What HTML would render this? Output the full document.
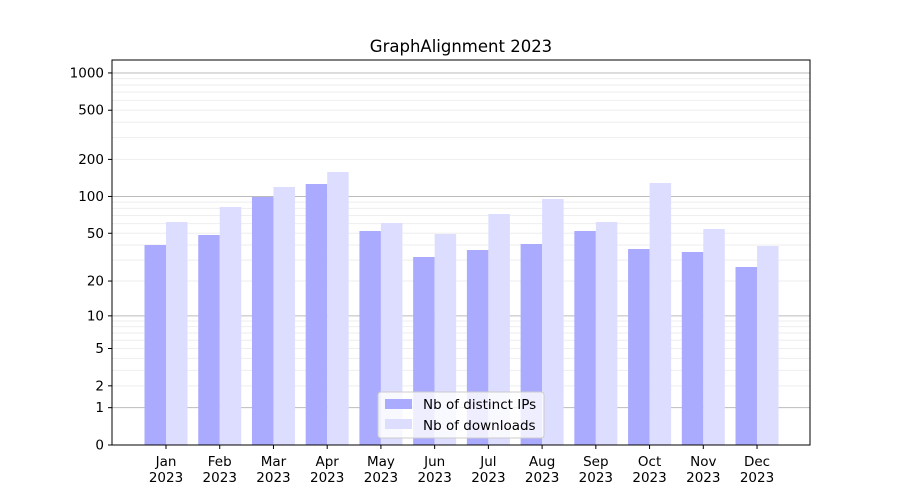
<!DOCTYPE html>
<html><head><meta charset="utf-8"><style>body{margin:0;background:#fff}svg{display:block;font-family:"DejaVu Sans","Liberation Sans",sans-serif}</style></head>
<body>
<svg width="900" height="500" xmlns="http://www.w3.org/2000/svg">
<rect width="900" height="500" fill="#fff"/>
<g id="grid"></g>
<g id="bars"></g>
<rect x="112" y="60" width="698" height="385" fill="none" stroke="#000" stroke-width="1"/>
<g id="ticks" font-size="13.5" fill="#000"></g>
<text x="461" y="52" font-size="16.5" text-anchor="middle">GraphAlignment 2023</text>
<g>
<rect x="378" y="392" width="166" height="46" rx="3" fill="#fff" fill-opacity="0.8" stroke="#ccc"/>
<rect x="385" y="399" width="27" height="10" fill="#aaaaff"/>
<text x="423" y="409" font-size="13.5">Nb of distinct IPs</text>
<rect x="385" y="419" width="27" height="10" fill="#ddddff"/>
<text x="423" y="430" font-size="13.5">Nb of downloads</text>
</g>
<script>
const ns="http://www.w3.org/2000/svg";
function Y(v){return 445-124*Math.log10(v+1);}
function el(t,a,p,txt){const e=document.createElementNS(ns,t);for(const k in a)e.setAttribute(k,a[k]);if(txt!==undefined)e.textContent=txt;document.getElementById(p).appendChild(e);return e;}
for(const d of [1,10,100]){for(let m=2;m<=9;m++){const y=Y(d*m);el('line',{x1:112,x2:810,y1:y,y2:y,stroke:'#eee','stroke-width':1},'grid');}}
for(const v of [1,10,100,1000]){const y=Y(v);el('line',{x1:112,x2:810,y1:y,y2:y,stroke:'#bbb','stroke-width':1},'grid');}
const tops=[[245,222],[235,207],[197,187],[184,172],[231,223],[257,234],[250,214],[244,199],[231,222],[249,183],[252,229],[267,246]];
const mon=["Jan","Feb","Mar","Apr","May","Jun","Jul","Aug","Sep","Oct","Nov","Dec"];
for(let i=0;i<12;i++){const c=166+i*53.73;
el('rect',{x:c-21.5,y:tops[i][0],width:21.5,height:445-tops[i][0],fill:'#aaaaff'},'bars');
el('rect',{x:c,y:tops[i][1],width:21.5,height:445-tops[i][1],fill:'#ddddff'},'bars');
el('line',{x1:c,x2:c,y1:445,y2:449,stroke:'#000'},'ticks');
el('text',{x:c,y:466,'text-anchor':'middle'},'ticks',mon[i]);
el('text',{x:c,y:482,'text-anchor':'middle'},'ticks','2023');}
for(const v of [0,1,2,5,10,20,50,100,200,500,1000]){const y=Y(v);
el('line',{x1:108,x2:112,y1:y,y2:y,stroke:'#000'},'ticks');
el('text',{x:104,y:y+4.5,'text-anchor':'end'},'ticks',String(v));}
</script>
</svg>
</body></html>
